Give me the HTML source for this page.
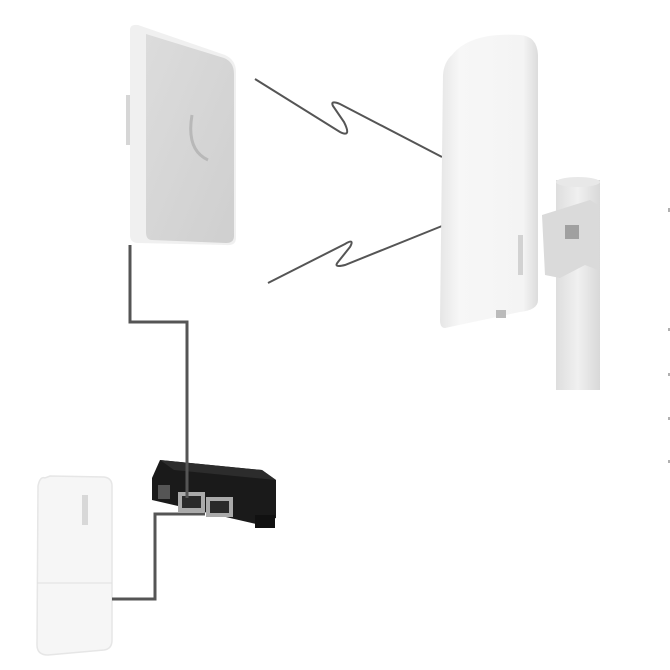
<!DOCTYPE html>
<html><head><meta charset="utf-8"><style>html,body{margin:0;padding:0;background:#fff}svg{display:block}</style></head>
<body>
<svg width="670" height="670" viewBox="0 0 670 670" xmlns="http://www.w3.org/2000/svg">
<defs>
<linearGradient id="panel" x1="0" y1="0" x2="1" y2="1"><stop offset="0" stop-color="#dcdcdc"/><stop offset="1" stop-color="#cfcfcf"/></linearGradient>
<linearGradient id="ant" x1="0" y1="0" x2="1" y2="0"><stop offset="0" stop-color="#e6e6e6"/><stop offset="0.2" stop-color="#f7f7f7"/><stop offset="0.85" stop-color="#f4f4f4"/><stop offset="1" stop-color="#dcdcdc"/></linearGradient>
<linearGradient id="pole" x1="0" y1="0" x2="1" y2="0"><stop offset="0" stop-color="#dedede"/><stop offset="0.5" stop-color="#f0f0f0"/><stop offset="1" stop-color="#d8d8d8"/></linearGradient>
</defs>
<!-- left panel -->
<rect x="126" y="95" width="10" height="50" fill="#d6d6d6"/>
<path d="M130 30 Q130 24 138 25 L225 55 Q236 60 236 72 L236 238 Q236 246 226 245 L138 243 Q130 243 130 235 Z" fill="#f0f0f0"/>
<path d="M146 34 L224 58 Q234 62 234 74 L234 236 Q234 243 226 243 L152 240 Q146 240 146 232 Z" fill="url(#panel)"/>
<path d="M192 115 Q186 150 208 160" stroke="#b8b8b8" stroke-width="3" fill="none"/>
<!-- cable 1 -->
<polyline points="130,245 130,322 187,322 187,498" fill="none" stroke="#555" stroke-width="3"/>
<!-- lightning -->
<path d="M255 79 L340 132 Q352 138 344 122 L333 106 Q330 100 340 104 L442 157" fill="none" stroke="#555" stroke-width="2"/>
<path d="M268 283 L345 244 Q355 238 350 247 L338 262 Q333 268 345 265 L442 226" fill="none" stroke="#555" stroke-width="2"/>
<!-- pole -->
<rect x="556" y="180" width="44" height="210" fill="url(#pole)"/>
<ellipse cx="578" cy="182" rx="22" ry="5" fill="#e8e8e8"/>
<!-- bracket -->
<path d="M542 215 L590 200 L598 205 L598 270 L585 265 L560 278 L545 275 Z" fill="#dadada"/>
<rect x="565" y="225" width="14" height="14" fill="#a0a0a0"/>
<!-- right antenna -->
<path d="M452 55 Q470 32 520 35 Q537 36 538 55 L538 300 Q538 310 520 312 L445 328 Q440 328 440 320 L443 75 Q444 62 452 55 Z" fill="url(#ant)"/>
<rect x="518" y="235" width="5" height="40" fill="#d2d2d2"/>
<rect x="496" y="310" width="10" height="8" fill="#bbb"/>
<!-- ticks right -->
<g fill="#b0b0b0"><rect x="668" y="208" width="2" height="4"/><rect x="668" y="328" width="2" height="3"/><rect x="668" y="373" width="2" height="3"/><rect x="668" y="417" width="2" height="3"/><rect x="668" y="460" width="2" height="3"/></g>
<!-- bottom-left device -->
<path d="M45 478 Q40 476 38 486 L37 645 Q37 655 48 655 L104 650 Q112 649 112 640 L112 486 Q112 478 104 477 L50 476 Z" fill="#f6f6f6" stroke="#e6e6e6" stroke-width="1.5"/>
<line x1="37" y1="583" x2="112" y2="583" stroke="#e0e0e0" stroke-width="1"/>
<rect x="82" y="495" width="6" height="30" fill="#d8d8d8"/>
<!-- cable 2 -->
<polyline points="112,599 155,599 155,514 205,514" fill="none" stroke="#555" stroke-width="3"/>
<!-- injector -->
<path d="M160 460 L262 470 L276 480 L276 518 L256 524 L152 500 L152 478 Z" fill="#1a1a1a"/>
<path d="M160 460 L262 470 L276 480 L174 470 Z" fill="#2c2c2c"/>
<rect x="255" y="515" width="20" height="13" fill="#111"/>
<rect x="158" y="485" width="12" height="14" fill="#555"/>
<rect x="178" y="492" width="27" height="20" fill="#aaa"/>
<rect x="182" y="496" width="19" height="12" fill="#2a2a2a"/>
<rect x="206" y="497" width="27" height="20" fill="#aaa"/>
<rect x="210" y="501" width="19" height="12" fill="#2a2a2a"/>
<polyline points="187,460 187,498" fill="none" stroke="#555" stroke-width="3"/>
</svg>
</body></html>
